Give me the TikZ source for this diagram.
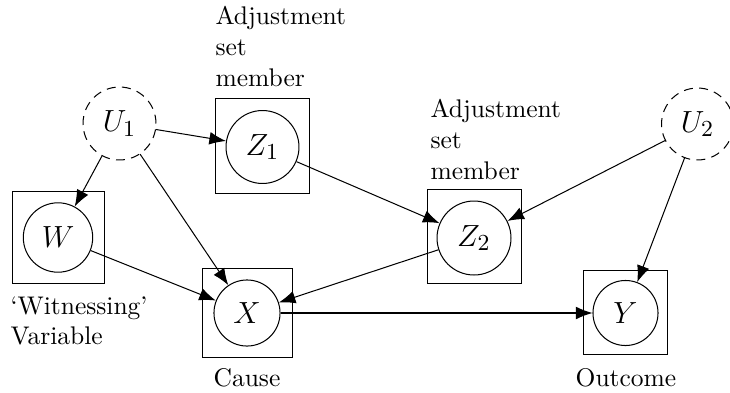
\documentclass[tikz,border=0pt]{standalone}
\usetikzlibrary{arrows.meta}
\begin{document}
\begin{tikzpicture}[x=0.392pt,y=-0.392pt,
  var/.style={circle,draw,inner sep=1pt,font=\fontsize{13pt}{15pt}\selectfont},
  latent/.style={var,dash pattern=on 3.5pt off 2.5pt},
  frame/.style={rectangle,draw,inner sep=0pt},
  edge/.style={-{Latex[length=6.5pt,width=5pt]}},
  lbl/.style={inner sep=0pt,align=left}]
\useasboundingbox (0,0) rectangle (730,392);

% frames marking observed variables
\node[frame,minimum size=35.7pt] (wbox)  at (58.5,237.5) {};
\node[frame,minimum size=34.9pt] (xbox)  at (247.5,313) {};
\node[frame,minimum size=37.2pt] (z1box) at (262.5,146) {};
\node[frame,minimum size=37.2pt] (z2box) at (474.5,236.5) {};
\node[frame,minimum size=33.3pt] (ybox)  at (625.5,312.5) {};

% variables
\node[latent,minimum size=28.6pt] (u1) at (119.5,123.5) {$U_1$};
\node[latent,minimum size=28.2pt] (u2) at (697.5,124) {$U_2$};
\node[var,minimum size=27.2pt] (w)  at (58,237.5) {$W$};
\node[var,minimum size=25.9pt] (x)  at (247,313) {$X$};
\node[var,minimum size=28.6pt] (z1) at (262.5,147) {$Z_1$};
\node[var,minimum size=29.0pt] (z2) at (474,238) {$Z_2$};
\node[var,minimum size=25.5pt] (y)  at (625.5,313) {$Y$};

% labels
\node[lbl,anchor=south west] (z1lab) at (215,87) {Adjustment\\set\\member};
\node[lbl,anchor=south west] (z2lab) at (430,180) {Adjustment\\set\\member};
\node[lbl,anchor=north west] (wlab) at (10,296) {`Witnessing'\\Variable};
\node[lbl,anchor=base] (xlab) at (247,386) {Cause};
\node[lbl,anchor=base] (ylab) at (626,386) {Outcome};

% causal edges
\draw[edge] (u1) -- (z1);
\draw[edge] (u1) -- (w);
\draw[edge] (u1) -- (x);
\draw[edge] (w) -- (x);
\draw[edge] (z1) -- (z2);
\draw[edge] (z2) -- (x);
\draw[edge] (u2) -- (z2);
\draw[edge] (u2) -- (y);
\draw[edge] (x) -- (y);
\end{tikzpicture}
\end{document}
